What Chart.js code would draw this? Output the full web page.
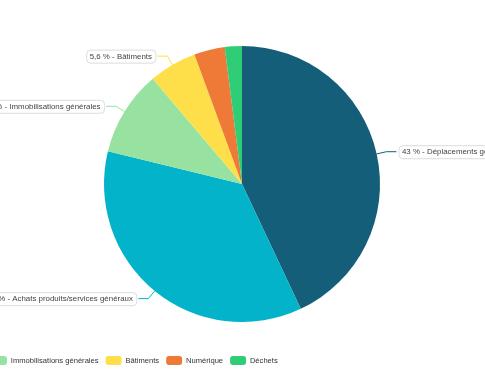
<!DOCTYPE html>
<html lang="fr">
<head>
<meta charset="utf-8">
<title>Répartition des émissions</title>
<script src="https://cdn.jsdelivr.net/npm/chart.js@4.4.1/dist/chart.umd.min.js"></script>
<style>
  html, body { margin: 0; padding: 0; background: #fff; overflow: hidden; }
  body { width: 485px; height: 369px; position: relative; }
  /* the chart is wider than the window, it is cropped on both sides */
  #wrap { position: absolute; left: -268px; top: 0; width: 1020px; height: 375px; }
</style>
</head>
<body>
<div id="wrap"><canvas id="pie"></canvas></div>
<script>
// ── Data ────────────────────────────────────────────────
const categories = [
  'Déplacements généraux',
  'Achats produits/services généraux',
  'Immobilisations générales',
  'Bâtiments',
  'Numérique',
  'Déchets',
];
const shares = [43, 35.8, 10, 5.6, 3.6, 2.0];

const palette = ['#145e79', '#03b3c9', '#98e2a1', '#fedf4a', '#ef7a38', '#30cd77'];

const FONT = "'Liberation Sans', Arial, sans-serif";
const FONT_SIZE = 7.6;
const LABEL_SIZE = 7.9;

const fmt = (v) => v.toLocaleString('fr-FR');

// ── Outside labels with leader lines ────────────────────
const pieLabels = {
  id: 'pieLabels',
  afterDatasetsDraw(chart) {
    const { ctx } = chart;
    const meta = chart.getDatasetMeta(0);
    ctx.save();
    ctx.font = `${LABEL_SIZE}px ${FONT}`;
    ctx.textBaseline = 'middle';

    meta.data.forEach((arc, i) => {
      if (shares[i] < 5) return;   // small slices have no label
      const { x, y, startAngle, endAngle, outerRadius } =
        arc.getProps(['x', 'y', 'startAngle', 'endAngle', 'outerRadius'], true);
      const mid = (startAngle + endAngle) / 2;
      const cos = Math.cos(mid), sin = Math.sin(mid);
      const dir = cos >= 0 ? 1 : -1;

      const x0 = x + cos * outerRadius,        y0 = y + sin * outerRadius;
      const x1 = x + cos * (outerRadius + 10), y1 = y + sin * (outerRadius + 10);
      const x2 = x1 + dir * 10;

      ctx.strokeStyle = palette[i];
      ctx.lineWidth = 1;
      ctx.beginPath();
      ctx.moveTo(x0, y0);
      ctx.lineTo(x1, y1);
      ctx.lineTo(x2, y1);
      ctx.stroke();

      const text = `${fmt(shares[i])} % - ${categories[i]}`;
      const tw = ctx.measureText(text).width;
      const w = tw + 7, h = 13;
      const bx = dir > 0 ? x2 + 2 : x2 - 2 - w;
      const by = y1 - h / 2;

      ctx.beginPath();
      ctx.roundRect(bx + 0.5, by + 0.5, w, h, 4);
      ctx.fillStyle = '#fff';
      ctx.fill();
      ctx.strokeStyle = '#dcdcdc';
      ctx.stroke();

      ctx.fillStyle = '#444';
      ctx.textAlign = 'left';
      ctx.fillText(text, bx + 3.5, y1 + 0.5);
    });
    ctx.restore();
  },
};

new Chart(document.getElementById('pie'), {
  type: 'pie',
  data: {
    labels: categories,
    datasets: [{
      data: shares,
      backgroundColor: palette,
      borderWidth: 0,
      hoverOffset: 0,
    }],
  },
  options: {
    responsive: true,
    maintainAspectRatio: false,
    animation: false,
    radius: 138,
    layout: { padding: { top: 19, left: 0, right: 0, bottom: 0 } },
    plugins: {
      tooltip: { enabled: false },
      legend: {
        position: 'bottom',
        align: 'start',
        labels: {
          boxWidth: 16,
          boxHeight: 9,
          useBorderRadius: true,
          borderRadius: 3,
          padding: 7,
          color: '#333',
          font: { family: FONT, size: FONT_SIZE },
        },
      },
    },
  },
  plugins: [pieLabels],
});
</script>
</body>
</html>
